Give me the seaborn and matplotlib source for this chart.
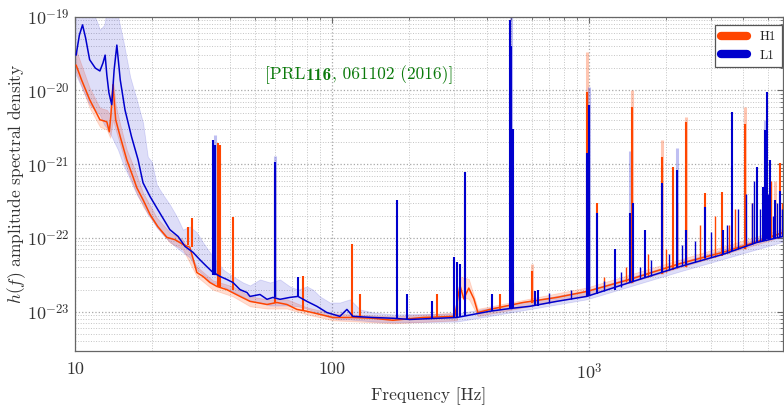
import numpy as np
import pandas as pd
import matplotlib
matplotlib.use("Agg")
import matplotlib.pyplot as plt
import seaborn as sns
from matplotlib.ticker import LogLocator, NullFormatter
from matplotlib.lines import Line2D

# ---------------- data ----------------
# L1 median ASD
l1_freq = [10.1, 10.4, 10.7, 11.0, 11.4, 12.0, 12.5, 12.85, 13.1, 13.3, 13.55, 13.9, 14.2, 14.55, 15.0,
           15.65, 16.6, 17.6, 18.4, 19.6, 21.0, 23.4, 25.2, 26.8, 28.8, 30.6, 32.6, 34.1, 36.7, 39.0,
           41.2, 43.9, 46.7, 48.0, 52.5, 55.9, 58.9, 62.8, 68.6, 73.8, 79.9, 87.4, 95.6, 107.4, 114.4,
           120.7, 144.4, 172.8, 201.2, 306.5, 411.9, 492.7, 589.4, 750.9, 982, 1443, 2260, 3322, 4504, 5700]
l1_asd = [3.0e-20, 5.6e-20, 7.7e-20, 5.1e-20, 2.6e-20, 2.0e-20, 1.83e-20, 2.35e-20, 3.0e-20, 1.62e-20,
          9.3e-21, 6.4e-21, 1.89e-20, 4.1e-20, 1.39e-20, 5.45e-21, 2.35e-21, 1.15e-21, 5.6e-22, 3.64e-22,
          2.43e-22, 1.30e-22, 1.05e-22, 7.7e-23, 6.4e-23, 5.1e-23, 4.1e-23, 3.53e-23, 3.02e-23, 2.75e-23,
          2.5e-23, 2.0e-23, 1.83e-23, 1.62e-23, 1.72e-23, 1.48e-23, 1.57e-23, 1.48e-23, 1.57e-23, 1.62e-23,
          1.39e-23, 1.19e-23, 9.8e-24, 8.7e-24, 1.08e-23, 8.7e-24, 8.4e-24, 8.2e-24, 7.9e-24, 8.4e-24,
          1.02e-23, 1.11e-23, 1.19e-23, 1.39e-23, 1.62e-23, 2.5e-23, 4.1e-23, 6.0e-23, 8.7e-23, 1.05e-22]

# H1 median ASD
h1_freq = [10.1, 10.6, 11.4, 12.5, 13.3, 13.6, 13.8, 14.05, 14.4, 15.0, 15.9, 16.8, 17.4, 18.4, 19.6,
           21.0, 22.8, 24.5, 26.3, 28.0, 29.8, 31.5, 33.5, 35.7, 39.0, 43.9, 48.0, 55.9, 61.1, 66.8,
           73.1, 79.9, 89.8, 100.9, 120.7, 144.4, 172.8, 226, 301, 315, 326, 341, 357, 370, 412,
           554, 751, 982, 1443, 2260, 3322, 4504, 5700]
h1_asd = [2.2e-20, 1.39e-20, 7.5e-21, 4.0e-21, 3.75e-21, 2.75e-21, 4.67e-21, 1.19e-20, 4.0e-21, 2.35e-21,
          1.15e-21, 6.8e-22, 4.8e-22, 3.3e-22, 2.08e-22, 1.43e-22, 1.02e-22, 9.5e-23, 8.2e-23, 7.5e-23,
          3.42e-23, 3.02e-23, 2.5e-23, 2.21e-23, 2.0e-23, 1.62e-23, 1.39e-23, 1.26e-23, 1.34e-23, 1.26e-23,
          1.08e-23, 1.02e-23, 9.25e-24, 8.4e-24, 8.4e-24, 8.2e-24, 7.7e-24, 8.4e-24, 8.7e-24, 2.3e-23,
          1.5e-23, 2.1e-23, 1.5e-23, 9.8e-24, 1.08e-23, 1.34e-23, 1.57e-23, 1.89e-23, 2.75e-23, 4.5e-23,
          6.4e-23, 8.9e-23, 1.19e-22]

# L1 percentile band
l1_band_freq = [10.1, 11.4, 12.2, 12.5, 13.0, 13.3, 13.9, 14.7, 15.4, 16.4, 17.4, 18.4, 19.2, 19.9, 20.8,
                22.0, 23.4, 24.9, 26.3, 28.0, 29.8, 31.5, 33.5, 37.7, 41.2, 45.1, 48.0, 52.5, 57.4, 62.8,
                68.6, 73.8, 79.9, 84.4, 89.8, 98.2, 107.4, 117.5, 128.5, 144.4, 172.8, 306.5, 492.7, 982,
                2260, 5700]
l1_band_lo = [1.6e-20, 6.4e-21, 5.1e-21, 4.67e-21, 3.42e-21, 3.11e-21, 2.35e-21, 1.57e-21, 1.0e-21, 6.2e-22,
              3.87e-22, 2.84e-22, 2.08e-22, 1.78e-22, 1.39e-22, 1.11e-22, 8.9e-23, 7.4e-23, 6.4e-23, 5.45e-23,
              3.75e-23, 3.21e-23, 2.58e-23, 2.21e-23, 1.89e-23, 1.62e-23, 1.39e-23, 1.34e-23, 1.22e-23, 1.22e-23,
              1.22e-23, 1.19e-23, 1.11e-23, 1.02e-23, 9.5e-24, 8.4e-24, 7.9e-24, 7.9e-24, 7.7e-24, 7.4e-24,
              7.2e-24, 7.4e-24, 9.8e-24, 1.48e-23, 3.53e-23, 8.9e-23]
l1_band_hi = [1.43e-19, 1.43e-19, 8.4e-20, 6.6e-20, 7.7e-20, 1.22e-19, 1.43e-19, 1.0e-19, 4.8e-20, 1.52e-20,
              7.4e-21, 3.64e-21, 1.26e-21, 1.08e-21, 5.3e-22, 3.87e-22, 2.84e-22, 1.95e-22, 1.30e-22, 1.43e-22,
              1.19e-22, 8.7e-23, 6.4e-23, 3.75e-23, 3.02e-23, 2.5e-23, 2.28e-23, 2.75e-23, 2.5e-23, 2.75e-23,
              2.21e-23, 2.0e-23, 2.21e-23, 2.0e-23, 1.62e-23, 1.34e-23, 1.34e-23, 1.48e-23, 1.08e-23, 9.8e-24,
              9.25e-24, 9.5e-24, 1.26e-23, 1.95e-23, 4.67e-23, 1.22e-22]

# H1 percentile band
h1_band_freq = [10.1, 11.4, 12.5, 13.3, 13.7, 14.05, 14.4, 15.0, 15.9, 16.8, 18.4, 20.8, 23.4, 26.3, 29.8,
                34.4, 41.2, 48.0, 55.9, 66.8, 79.9, 100.9, 172.8, 306.5, 315, 341, 370, 982, 5700]
h1_band_lo = [1.78e-20, 5.8e-21, 3.21e-21, 2.93e-21, 2.28e-21, 4.0e-21, 2.93e-21, 1.83e-21, 8.9e-22, 5.3e-22,
              2.67e-22, 1.43e-22, 8.7e-23, 7.0e-23, 3.02e-23, 2.0e-23, 1.62e-23, 1.19e-23, 1.11e-23, 1.11e-23,
              9.25e-24, 7.7e-24, 7.0e-24, 7.7e-24, 1.6e-23, 1.5e-23, 8.8e-24, 1.67e-23, 1.05e-22]
h1_band_hi = [3.53e-20, 1.08e-20, 5.8e-21, 5.45e-21, 4.67e-21, 1.47e-20, 6.4e-21, 3.42e-21, 1.57e-21, 9.8e-22,
              4.1e-22, 1.89e-22, 1.19e-22, 9.5e-23, 4.1e-23, 2.67e-23, 2.21e-23, 1.62e-23, 1.48e-23, 1.48e-23,
              1.15e-23, 9.5e-24, 8.7e-24, 9.8e-24, 3.0e-23, 2.8e-23, 1.1e-23, 2.14e-23, 1.34e-22]

# narrow spectral lines (frequency, level at base, level at top)
l1_line_freq = [34.6, 35.2, 60.0, 73.8, 179, 196, 245, 298, 306, 315, 329, 419, 494, 497, 500, 505, 617, 633,
                985, 1000, 1074, 1262, 1443, 1483, 1652, 1923, 2199, 2385, 2828, 3322, 3601, 4504, 4753,
                4840, 4928, 5062, 5293, 5537]
l1_line_base = [3.2e-23, 3.2e-23, 1.57e-23, 1.62e-23, 8.2e-24, 8.0e-24, 8.0e-24, 8.4e-24, 8.4e-24, 8.6e-24,
                8.8e-24, 1.02e-23, 1.1e-23, 1.11e-23, 1.11e-23, 1.12e-23, 1.2e-23, 1.22e-23, 1.62e-23, 1.65e-23,
                1.75e-23, 2.0e-23, 2.5e-23, 2.55e-23, 2.9e-23, 3.5e-23, 4.0e-23, 4.4e-23, 5.3e-23, 6.0e-23,
                6.6e-23, 8.7e-23, 9.2e-23, 9.4e-23, 9.6e-23, 9.8e-23, 1.0e-22, 1.03e-22]
l1_line_top = [2.14e-21, 1.83e-21, 1.08e-21, 2.93e-23, 3.3e-22, 1.72e-23, 1.39e-23, 5.6e-23, 4.67e-23, 4.4e-23,
               7.9e-22, 1.72e-23, 9.0e-20, 4.0e-20, 1.0e-20, 3.0e-21, 1.89e-23, 2.0e-23, 1.4e-21, 6.4e-21,
               2.21e-22, 7.0e-23, 2.21e-22, 3.02e-22, 1.30e-22, 5.6e-22, 8.4e-22, 1.30e-22, 2.67e-22, 1.30e-22,
               5.1e-21, 9.3e-22, 4.97e-22, 2.93e-21, 9.5e-21, 1.15e-21, 3.3e-22, 4.4e-22]

h1_line_freq = [27.5, 28.5, 36.0, 36.7, 41.2, 60.0, 77.1, 119.6, 128.5, 256, 331, 450, 505, 600, 982, 1074,
                1470, 1923, 2122, 2385, 2828, 3292, 4046, 5537]
h1_line_base = [8.0e-23, 7.5e-23, 2.2e-23, 2.2e-23, 2.0e-23, 1.34e-23, 1.05e-23, 8.4e-24, 8.4e-24, 8.5e-24,
                1.4e-23, 1.1e-23, 1.2e-23, 1.3e-23, 1.89e-23, 1.95e-23, 2.5e-23, 3.3e-23, 3.7e-23, 4.1e-23,
                5.0e-23, 5.8e-23, 7.2e-23, 1.1e-22]
h1_line_top = [1.43e-22, 1.89e-22, 1.95e-21, 1.83e-21, 1.95e-22, 7.7e-22, 3.02e-23, 8.2e-23, 1.72e-23, 1.72e-23,
               6.0e-22, 1.72e-23, 2.5e-23, 3.53e-23, 9.5e-21, 3.02e-22, 6.0e-21, 1.26e-21, 9.3e-22, 3.75e-21,
               4.1e-22, 4.25e-22, 3.5e-21, 1.05e-21]

# smaller high-frequency lines ("grass")
l1_grass_freq = [700, 850, 1150, 1330, 1580, 1750, 2050, 2300, 2600, 3000, 3450, 3800, 4100, 4300, 4400,
                 4650, 5000, 5200, 5400, 5650]
l1_grass_base = [1.33e-23, 1.5e-23, 1.9e-23, 2.15e-23, 2.75e-23, 3.05e-23, 3.65e-23, 4.15e-23, 4.8e-23, 5.5e-23,
                 6.3e-23, 7.2e-23, 7.8e-23, 8.3e-23, 8.5e-23, 9.0e-23, 9.7e-23, 1.0e-22, 1.02e-22, 1.05e-22]
l1_grass_top = [1.8e-23, 2.0e-23, 2.6e-23, 3.5e-23, 4.0e-23, 5.0e-23, 6.0e-23, 8.0e-23, 9.0e-23, 1.2e-22,
                1.5e-22, 2.5e-22, 4.0e-22, 3.0e-22, 6.0e-22, 2.5e-22, 4.0e-22, 2.0e-22, 3.0e-22, 2.5e-22]
h1_grass_freq = [1150, 1400, 1700, 2000, 2200, 2700, 3100, 3500, 3700, 4300, 4800, 5100, 5650]
h1_grass_base = [2.1e-23, 2.55e-23, 3.0e-23, 3.5e-23, 3.9e-23, 4.9e-23, 5.6e-23, 6.3e-23, 6.8e-23, 8.3e-23,
                 9.3e-23, 1.0e-22, 1.1e-22]
h1_grass_top = [3.0e-23, 4.0e-23, 6.0e-23, 7.0e-23, 3.0e-22, 1.5e-22, 2.0e-22, 1.5e-22, 2.5e-22, 3.0e-22,
                4.0e-22, 6.0e-22, 3.0e-22]

# lines in the percentile bands (lighter)
l1_bline_freq = [35.0, 60.0, 497, 1000, 1443, 2199, 4840]
l1_bline_base = [3.2e-23, 1.57e-23, 1.11e-23, 1.65e-23, 2.5e-23, 4.0e-23, 9.4e-23]
l1_bline_top = [2.5e-21, 1.3e-21, 1.3e-19, 1.11e-20, 1.5e-21, 1.67e-21, 4.0e-21]
h1_bline_freq = [600, 982, 1470, 1923, 2385, 4046, 5300]
h1_bline_base = [1.3e-23, 1.9e-23, 2.5e-23, 3.3e-23, 4.1e-23, 7.2e-23, 1.05e-22]
h1_bline_top = [4.4e-23, 3.3e-20, 1.0e-20, 2.14e-21, 4.4e-21, 6.0e-21, 6.0e-22]

det_names = ["H1", "L1"]
x_ticks = [10, 100, 1000]
x_ticklabels = ["10", "100", r"$10^3$"]
y_ticks = [1e-23, 1e-22, 1e-21, 1e-20, 1e-19]
y_ticklabels = [r"$10^{-23}$", r"$10^{-22}$", r"$10^{-21}$", r"$10^{-20}$", r"$10^{-19}$"]
ref_parts = ["[PRL", "116", ", 061102 (2016)]"]

# ---------------- style ----------------
sns.set_style("white")
plt.rcParams["font.family"] = ["cmr10", "DejaVu Serif"]
plt.rcParams["mathtext.fontset"] = "cm"
plt.rcParams["axes.unicode_minus"] = False
plt.rcParams["axes.formatter.use_mathtext"] = True

H1_COL = "#ff4500"
L1_COL = "#0000cd"
TXT = "#333333"
GREEN = "#0b7a0b"

fig = plt.figure(figsize=(7.84, 4.05), dpi=100)
ax = fig.add_axes([75 / 784, 1 - 350.5 / 405, (783 - 75) / 784, (350.5 - 16.5) / 405])
ax.set_xscale("log")
ax.set_yscale("log")

# bands
ax.fill_between(h1_band_freq, h1_band_lo, h1_band_hi, color=H1_COL, alpha=0.18, lw=0.6, zorder=2)
ax.fill_between(l1_band_freq, l1_band_lo, l1_band_hi, color=L1_COL, alpha=0.13, lw=0.6, zorder=2)
ax.vlines(h1_bline_freq, h1_bline_base, h1_bline_top, color=H1_COL, alpha=0.3, lw=2.2, zorder=2)
ax.vlines(l1_bline_freq, l1_bline_base, l1_bline_top, color=L1_COL, alpha=0.25, lw=2.2, zorder=2)

# medians
h1_df = pd.DataFrame({"freq": h1_freq, "asd": h1_asd})
l1_df = pd.DataFrame({"freq": l1_freq, "asd": l1_asd})
sns.lineplot(data=h1_df, x="freq", y="asd", color=H1_COL, lw=1.1, estimator=None, sort=False, ax=ax, zorder=3)
ax.vlines(h1_line_freq, h1_line_base, h1_line_top, color=H1_COL, lw=1.5, zorder=3)
ax.vlines(h1_grass_freq, h1_grass_base, h1_grass_top, color=H1_COL, lw=1.0, zorder=3)
sns.lineplot(data=l1_df, x="freq", y="asd", color=L1_COL, lw=1.1, estimator=None, sort=False, ax=ax, zorder=4)
ax.vlines(l1_line_freq, l1_line_base, l1_line_top, color=L1_COL, lw=1.5, zorder=4)
ax.vlines(l1_grass_freq, l1_grass_base, l1_grass_top, color=L1_COL, lw=1.0, zorder=4)

ax.set_xlim(10, 5700)
ax.set_ylim(3e-24, 1e-19)

ax.set_xticks(x_ticks)
ax.set_xticklabels(x_ticklabels)
ax.set_yticks(y_ticks)
ax.set_yticklabels(y_ticklabels)
ax.xaxis.set_minor_locator(LogLocator(base=10, subs=np.arange(2, 10)))
ax.yaxis.set_minor_locator(LogLocator(base=10, subs=np.arange(2, 10), numticks=20))
ax.xaxis.set_minor_formatter(NullFormatter())
ax.yaxis.set_minor_formatter(NullFormatter())
ax.tick_params(which="both", direction="in", top=True, right=True, colors="#666666",
               labelcolor=TXT, labelsize=13)
ax.tick_params(which="major", length=4, width=0.8)
ax.tick_params(which="minor", length=2.5, width=0.6)
ax.tick_params(axis="x", pad=8)
ax.tick_params(axis="y", pad=4)

ax.grid(which="major", ls=":", color="#a8a8a8", lw=0.9)
ax.grid(which="minor", ls=":", color="#c4c4c4", lw=0.7)
ax.set_axisbelow(True)
for s in ax.spines.values():
    s.set_color("#666666")
    s.set_linewidth(0.9)

ax.set_xlabel("Frequency [Hz]", fontsize=12.5, color=TXT, labelpad=4)
ax.set_ylabel(r"$h(f)$ amplitude spectral density", fontsize=12.5, color=TXT)
ax.yaxis.set_label_coords(-0.066, 0.5)

handles = [Line2D([0], [0], color=H1_COL, lw=6), Line2D([0], [0], color=L1_COL, lw=6)]
leg = ax.legend(handles, det_names, loc="upper right", bbox_to_anchor=(1.0, 0.978), fontsize=9.5,
                frameon=True, fancybox=False, edgecolor="#555555", framealpha=1, handlelength=2.0,
                borderaxespad=0.1, borderpad=0.45, labelspacing=0.45, handletextpad=0.9)
leg.get_frame().set_linewidth(0.9)
leg.set_zorder(10)

# citation text, with bold volume number, placed piece by piece on one baseline
fig.canvas.draw()
renderer = fig.canvas.get_renderer()
x_px, y_px = 265.0, 405 - 79.5
fams = [["cmr10"], ["cmb10", "cmr10"], ["cmr10"]]
for part, fam in zip(ref_parts, fams):
    t = fig.text(x_px / 784, y_px / 405, part, ha="left", va="baseline", fontsize=12.5,
                 color=GREEN, family=fam, zorder=6)
    x_px = t.get_window_extent(renderer).x1

fig.savefig("out.png", dpi=100)
